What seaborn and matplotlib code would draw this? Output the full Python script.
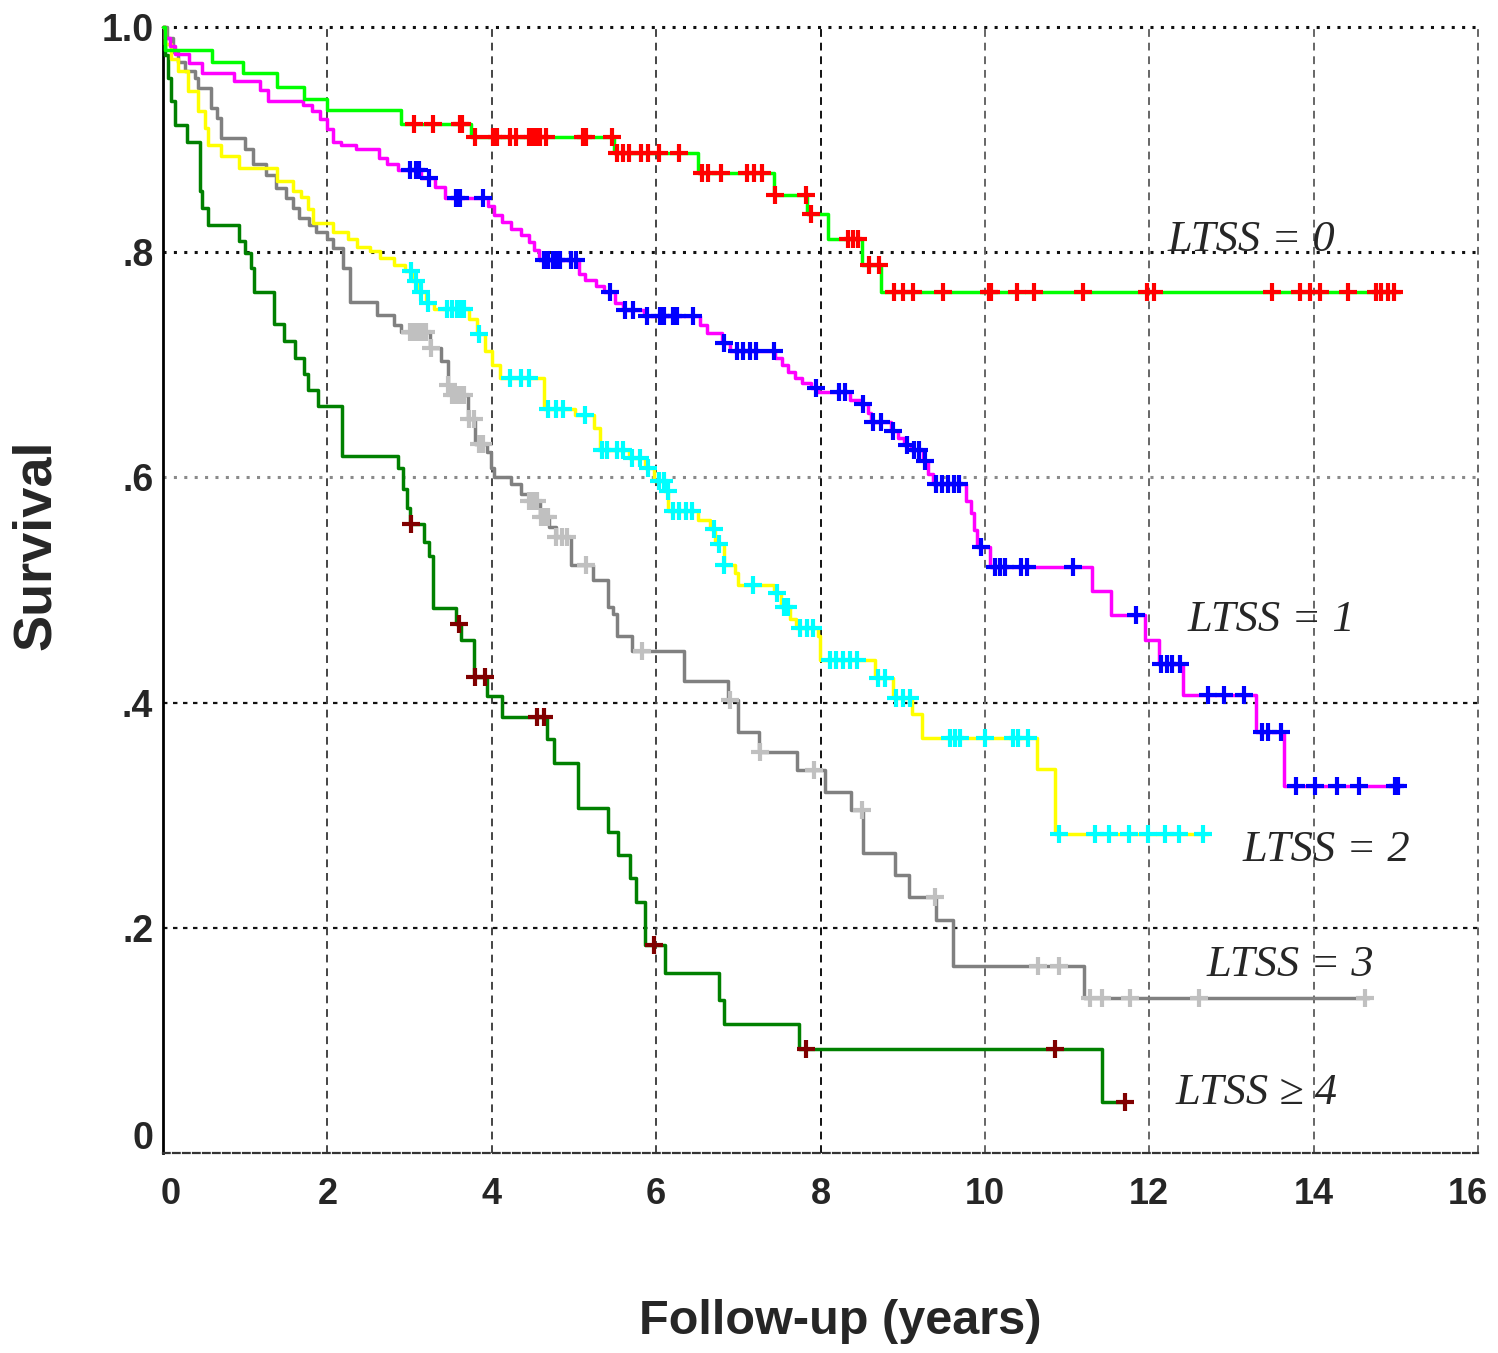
import numpy as np
import pandas as pd
import matplotlib
matplotlib.use("Agg")
import matplotlib.pyplot as plt
import seaborn as sns
from matplotlib.transforms import ScaledTranslation

sns.set_style("white")
plt.rcParams['font.family'] = ['Liberation Sans', 'DejaVu Sans']

# ---------------- data ----------------
groups = ["LTSS = 0", "LTSS = 1", "LTSS = 2", "LTSS = 3", "LTSS ≥ 4"]

ltss0_time = [0, 0.02, 0.60, 0.97, 1.39, 1.72, 2.00, 2.89, 3.75, 5.49, 6.51, 7.43, 7.84, 8.09, 8.51, 8.74, 15.05]
ltss0_surv = [1.0, 0.980, 0.969, 0.959, 0.947, 0.936, 0.926, 0.914, 0.902, 0.888, 0.870, 0.851, 0.834, 0.812, 0.789, 0.765, 0.765]
ltss0_cens = [3.05, 3.29, 3.61, 3.64, 3.80, 4.01, 4.06, 4.22, 4.29, 4.45, 4.50, 4.55, 4.59, 4.66, 5.11, 5.15, 5.46,
              5.53, 5.60, 5.67, 5.81, 5.90, 6.04, 6.28, 6.56, 6.63, 6.79, 7.10, 7.19, 7.29, 7.45, 7.82, 7.88, 8.34,
              8.40, 8.46, 8.59, 8.71, 8.90, 9.00, 9.12, 9.49, 10.05, 10.08, 10.39, 10.60, 11.19, 11.97, 12.06,
              13.49, 13.83, 13.95, 14.08, 14.42, 14.76, 14.82, 14.91, 14.98]

ltss1_time = [0, 0.03, 0.08, 0.14, 0.32, 0.48, 0.86, 1.18, 1.28, 1.70, 1.81, 1.91, 2.00, 2.07, 2.16, 2.35, 2.63,
              2.72, 2.86, 3.14, 3.31, 3.43, 3.96, 4.03, 4.13, 4.24, 4.36, 4.45, 4.52, 4.57, 5.06, 5.13, 5.27, 5.36,
              5.50, 5.60, 5.85, 6.53, 6.62, 6.80, 6.90, 7.45, 7.53, 7.61, 7.69, 7.77, 7.89, 7.97, 8.36, 8.48, 8.58,
              8.62, 8.86, 8.94, 9.02, 9.10, 9.25, 9.31, 9.37, 9.77, 9.83, 9.87, 9.91, 10.06, 11.30, 11.54, 11.95,
              12.12, 12.41, 13.30, 13.64, 15.05]
ltss1_surv = [1.0, 0.990, 0.983, 0.976, 0.968, 0.959, 0.952, 0.944, 0.934, 0.931, 0.925, 0.918, 0.909, 0.898, 0.895,
              0.892, 0.884, 0.878, 0.873, 0.866, 0.858, 0.848, 0.841, 0.833, 0.827, 0.821, 0.815, 0.809, 0.802,
              0.793, 0.781, 0.775, 0.770, 0.765, 0.755, 0.749, 0.743, 0.735, 0.728, 0.719, 0.712, 0.706, 0.700,
              0.694, 0.688, 0.684, 0.679, 0.676, 0.669, 0.665, 0.657, 0.649, 0.641, 0.635, 0.629, 0.624, 0.615,
              0.603, 0.594, 0.579, 0.568, 0.553, 0.538, 0.520, 0.499, 0.478, 0.456, 0.434, 0.407, 0.374, 0.326, 0.326]
ltss1_cens = [3.00, 3.08, 3.12, 3.24, 3.57, 3.61, 3.89, 4.64, 4.69, 4.74, 4.78, 4.83, 4.97, 5.02, 5.44, 5.62, 5.72,
              5.89, 6.05, 6.10, 6.21, 6.25, 6.45, 6.82, 6.98, 7.06, 7.14, 7.22, 7.43, 7.95, 8.23, 8.30, 8.52, 8.64,
              8.74, 8.88, 9.05, 9.14, 9.20, 9.27, 9.41, 9.48, 9.55, 9.62, 9.69, 9.95, 10.12, 10.18, 10.24, 10.44,
              10.51, 11.07, 11.84, 12.14, 12.22, 12.28, 12.38, 12.71, 12.91, 13.15, 13.37, 13.45, 13.60, 13.78,
              14.02, 14.28, 14.55, 14.99, 15.03]

ltss2_time = [0, 0.03, 0.10, 0.18, 0.31, 0.43, 0.51, 0.55, 0.70, 0.92, 1.39, 1.58, 1.68, 1.76, 1.82, 2.07, 2.25,
              2.36, 2.52, 2.64, 2.81, 2.95, 3.03, 3.10, 3.20, 3.30, 3.72, 3.82, 3.92, 4.00, 4.10, 4.64, 5.01, 5.25,
              5.32, 5.67, 5.86, 5.97, 6.10, 6.15, 6.51, 6.66, 6.72, 6.82, 6.96, 7.00, 7.43, 7.52, 7.63, 7.70, 7.97,
              7.99, 8.66, 8.88, 9.11, 9.23, 10.63, 10.85, 12.72]
ltss2_surv = [1.0, 0.985, 0.972, 0.961, 0.943, 0.925, 0.910, 0.895, 0.885, 0.875, 0.863, 0.854, 0.849, 0.838, 0.826,
              0.818, 0.812, 0.805, 0.801, 0.795, 0.789, 0.783, 0.774, 0.765, 0.755, 0.750, 0.741, 0.727, 0.712,
              0.700, 0.688, 0.661, 0.655, 0.644, 0.624, 0.617, 0.608, 0.597, 0.588, 0.570, 0.562, 0.554, 0.541,
              0.522, 0.515, 0.504, 0.497, 0.485, 0.474, 0.466, 0.459, 0.438, 0.422, 0.404, 0.390, 0.369, 0.341,
              0.283, 0.283]
ltss2_cens = [3.02, 3.08, 3.14, 3.22, 3.45, 3.52, 3.58, 3.63, 3.66, 3.85, 4.22, 4.36, 4.45, 4.69, 4.78, 4.87, 5.13,
              5.34, 5.40, 5.53, 5.60, 5.71, 5.80, 5.90, 6.03, 6.09, 6.14, 6.20, 6.28, 6.36, 6.44, 6.70, 6.76, 6.82,
              7.18, 7.47, 7.55, 7.60, 7.75, 7.83, 7.91, 8.11, 8.19, 8.27, 8.36, 8.44, 8.70, 8.78, 8.92, 9.00, 9.09,
              9.58, 9.64, 9.70, 10.00, 10.34, 10.40, 10.53, 10.90, 11.34, 11.51, 11.75, 11.99, 12.19, 12.36, 12.65]

ltss3_time = [0, 0.05, 0.12, 0.18, 0.27, 0.39, 0.43, 0.59, 0.66, 0.70, 1.00, 1.09, 1.25, 1.37, 1.50, 1.58, 1.66,
              1.78, 1.86, 1.99, 2.07, 2.19, 2.27, 2.60, 2.81, 2.89, 3.25, 3.38, 3.47, 3.52, 3.71, 3.80, 3.94, 3.99,
              4.03, 4.24, 4.36, 4.45, 4.59, 4.70, 4.78, 4.97, 5.23, 5.41, 5.47, 5.52, 5.71, 6.34, 6.88, 7.00, 7.25,
              7.71, 8.05, 8.37, 8.52, 8.91, 9.08, 9.41, 9.61, 11.20, 14.67]
ltss3_surv = [1.0, 0.990, 0.978, 0.969, 0.961, 0.955, 0.946, 0.928, 0.919, 0.901, 0.892, 0.878, 0.869, 0.857, 0.848,
              0.839, 0.830, 0.824, 0.818, 0.812, 0.804, 0.786, 0.756, 0.744, 0.735, 0.729, 0.715, 0.703, 0.682,
              0.673, 0.652, 0.630, 0.623, 0.608, 0.600, 0.594, 0.585, 0.579, 0.565, 0.556, 0.547, 0.522, 0.509,
              0.485, 0.479, 0.459, 0.446, 0.419, 0.402, 0.374, 0.356, 0.340, 0.321, 0.305, 0.266, 0.247, 0.227,
              0.207, 0.166, 0.138, 0.138]
ltss3_cens = [3.00, 3.05, 3.10, 3.15, 3.20, 3.26, 3.47, 3.52, 3.57, 3.61, 3.66, 3.72, 3.78, 3.84, 3.89, 4.45, 4.50,
              4.55, 4.60, 4.65, 4.69, 4.78, 4.85, 4.92, 5.15, 5.83, 6.90, 7.26, 7.92, 8.50, 9.39, 10.65, 10.90,
              11.28, 11.42, 11.76, 12.60, 14.63]

ltss4_time = [0, 0.03, 0.06, 0.10, 0.14, 0.29, 0.45, 0.47, 0.55, 0.92, 1.00, 1.07, 1.11, 1.35, 1.47, 1.60, 1.72,
              1.77, 1.88, 2.18, 2.86, 2.92, 2.97, 3.00, 3.17, 3.24, 3.29, 3.57, 3.62, 3.78, 3.94, 4.12, 4.67, 4.76,
              5.05, 5.42, 5.54, 5.68, 5.76, 5.87, 6.11, 6.77, 6.82, 7.74, 11.42, 11.72]
ltss4_surv = [1.0, 0.975, 0.955, 0.934, 0.913, 0.898, 0.854, 0.839, 0.824, 0.810, 0.799, 0.786, 0.765, 0.736, 0.721,
              0.706, 0.692, 0.678, 0.663, 0.619, 0.608, 0.590, 0.573, 0.559, 0.543, 0.530, 0.484, 0.470, 0.456,
              0.423, 0.406, 0.387, 0.368, 0.346, 0.306, 0.285, 0.265, 0.244, 0.223, 0.185, 0.160, 0.136, 0.115,
              0.092, 0.045, 0.045]
ltss4_cens = [3.02, 3.60, 3.80, 3.92, 4.55, 4.63, 5.98, 7.82, 10.85, 11.70]

line_colors = ["#00FF00", "#FF00FF", "#FFFF00", "#808080", "#008000"]
mark_colors = ["#FF0000", "#0000FF", "#00FFFF", "#C0C0C0", "#800000"]

x_ticks = [0, 2, 4, 6, 8, 10, 12, 14, 16]
y_ticks = [0, 0.2, 0.4, 0.6, 0.8, 1.0]
y_tick_labels = ["0", ".2", ".4", ".6", ".8", "1.0"]

# label anchor positions (data coords)
label_x = [13.24, 13.49, 14.15, 13.72, 13.30]
label_y = [0.811, 0.473, 0.269, 0.167, 0.053]

# ---------------- tables ----------------
times = [ltss0_time, ltss1_time, ltss2_time, ltss3_time, ltss4_time]
survs = [ltss0_surv, ltss1_surv, ltss2_surv, ltss3_surv, ltss4_surv]
cens = [ltss0_cens, ltss1_cens, ltss2_cens, ltss3_cens, ltss4_cens]

curve_rows, cens_rows = [], []
for g, t, s, c in zip(groups, times, survs, cens):
    t = np.asarray(t); s = np.asarray(s)
    for ti, si in zip(t, s):
        curve_rows.append((g, ti, si))
    for ci in c:
        idx = np.searchsorted(t, ci, side="right") - 1
        cens_rows.append((g, ci, s[idx]))
curves = pd.DataFrame(curve_rows, columns=["group", "time", "survival"])
censored = pd.DataFrame(cens_rows, columns=["group", "time", "survival"])

draw_order = groups[::-1]

# ---------------- figure ----------------
fig = plt.figure(figsize=(14.98, 13.53), dpi=100)
ax = fig.add_axes([163 / 1498, 1 - 1153 / 1353, (1478 - 163) / 1498, (1153 - 27) / 1353])

# grid
for y in y_ticks[1:]:
    if y >= 0.7:
        ax.axhline(y, color="#111111", lw=2.2, ls=(0, (1, 2.4)), zorder=1, clip_on=False)
    elif y > 0.5:
        ax.axhline(y, color="#8a8a8a", lw=2.2, ls=(0, (1, 2.4)), zorder=1, clip_on=False)
    else:
        ax.axhline(y, color="#111111", lw=1.6, ls=(0, (2, 2.5)), zorder=1, clip_on=False)
for x in x_ticks[1:]:
    col = "#111111" if x == 8 else ("#444444" if x < 8 else "#666666")
    ax.axvline(x, color=col, lw=1.4, ls=(0, (4, 3)), zorder=1, clip_on=False)

line_pal = dict(zip(groups, line_colors))
mark_pal = dict(zip(groups, mark_colors))

for g in draw_order:
    sub = curves[curves["group"] == g]
    sns.lineplot(data=sub, x="time", y="survival", color=line_pal[g], estimator=None, sort=False,
                 drawstyle="steps-post", linewidth=2.5, ax=ax, legend=False, zorder=3, clip_on=False)
for g in draw_order:
    sub = censored[censored["group"] == g]
    sns.scatterplot(data=sub, x="time", y="survival", color=mark_pal[g], marker="+", s=150,
                    linewidth=3.0, ax=ax, legend=False, zorder=4, clip_on=False)

ax.set_xlim(0, 16)
ax.set_ylim(0, 1.0)
ax.set_xticks(x_ticks)
ax.set_xticklabels([str(v) for v in x_ticks])
ax.set_yticks(y_ticks)
ax.set_yticklabels(y_tick_labels)
ax.set_xlabel("")
ax.set_ylabel("")

for side in ["top", "right"]:
    ax.spines[side].set_visible(False)
ax.spines["left"].set_color("black")
ax.spines["left"].set_linewidth(2.0)
ax.spines["bottom"].set_color("#333333")
ax.spines["bottom"].set_linewidth(1.6)
ax.spines["bottom"].set_linestyle((0, (3, 1.5)))

ax.tick_params(axis="x", direction="inout", length=12, width=1.5, color="#222222", pad=11,
               labelsize=26)
ax.tick_params(axis="y", direction="out", length=5, width=2, color="black", pad=2, labelsize=27)
for lab in ax.get_xticklabels() + ax.get_yticklabels():
    lab.set_fontweight("bold")
# lift the "0" label of the y axis as in the original
ylabs = ax.get_yticklabels()
ylabs[0].set_transform(ylabs[0].get_transform() + ScaledTranslation(0, 18 / 100, fig.dpi_scale_trans))
# nudge first/last x labels inward as in the original
xlabs = ax.get_xticklabels()
xlabs[0].set_transform(xlabs[0].get_transform() + ScaledTranslation(8 / 100, 0, fig.dpi_scale_trans))
xlabs[-1].set_transform(xlabs[-1].get_transform() + ScaledTranslation(-10 / 100, 0, fig.dpi_scale_trans))

# group labels
for g, lx, ly in zip(groups, label_x, label_y):
    ax.text(lx, ly, g, fontsize=32, style="italic", family=["Liberation Serif", "DejaVu Serif"],
            ha="center", va="center", zorder=5)

fig.text(840 / 1498, 1 - 1322 / 1353, "Follow-up (years)", ha="center", va="center",
         fontsize=35, fontweight="bold")
fig.text(36 / 1498, 1 - 545 / 1353, "Survival", ha="center", va="center", rotation=90,
         fontsize=39, fontweight="bold", family=["Liberation Sans", "DejaVu Sans"])

fig.savefig("out.png", dpi=100, facecolor="white")
